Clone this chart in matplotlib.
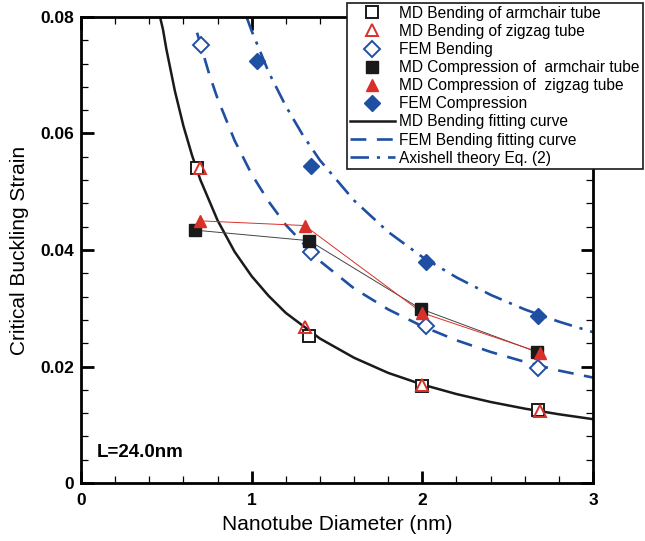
import matplotlib
matplotlib.use("Agg")
import matplotlib.pyplot as plt
from matplotlib.ticker import MultipleLocator

plt.rcParams["font.family"] = ["Liberation Sans", "DejaVu Sans"]

BLUE = "#1f4fa3"
RED = "#d9302a"
INK = "#1a1a1a"

# measured points (diameter nm, critical strain)
md_bend_arm_x = [0.68, 1.336, 2.00, 2.68]
md_bend_arm_y = [0.0541, 0.0252, 0.0167, 0.0125]
md_bend_zig_x = [0.70, 1.31, 2.00, 2.69]
md_bend_zig_y = [0.0540, 0.0267, 0.0168, 0.0124]
fem_bend_x = [0.703, 1.35, 2.02, 2.68]
fem_bend_y = [0.0752, 0.0397, 0.0270, 0.0197]
md_comp_arm_x = [0.67, 1.336, 1.99, 2.67]
md_comp_arm_y = [0.0434, 0.0416, 0.0299, 0.0225]
md_comp_zig_x = [0.70, 1.31, 2.00, 2.69]
md_comp_zig_y = [0.0450, 0.0442, 0.0292, 0.0224]
fem_comp_x = [1.03, 1.35, 2.02, 2.68]
fem_comp_y = [0.0725, 0.0544, 0.0379, 0.0287]

# curves
md_fit_x = [0.463, 0.48, 0.50, 0.55, 0.60, 0.65, 0.70, 0.80, 0.90, 1.0, 1.1,
            1.2, 1.4, 1.6, 1.8, 2.0, 2.2, 2.4, 2.6, 2.8, 3.0]
md_fit_y = [0.0800, 0.0779, 0.0745, 0.0673, 0.0613, 0.0563, 0.0520, 0.0451,
            0.0397, 0.0355, 0.0321, 0.0292, 0.0248, 0.0215, 0.0189, 0.0169,
            0.01527, 0.01391, 0.01277, 0.01180, 0.01096]
fem_fit_x = [0.68, 0.75, 0.80, 0.90, 1.0, 1.1, 1.2, 1.4, 1.6, 1.8, 2.0, 2.2,
             2.4, 2.6, 2.8, 3.0]
fem_fit_y = [0.0773, 0.0703, 0.0660, 0.0588, 0.0530, 0.0483, 0.0443, 0.0381,
             0.0334, 0.0298, 0.0269, 0.0245, 0.0225, 0.0208, 0.0193, 0.0181]
axi_x = [0.97, 1.0, 1.1, 1.2, 1.3, 1.4, 1.6, 1.8, 2.0, 2.2, 2.4, 2.6, 2.8, 3.0]
axi_y = [0.0800, 0.0776, 0.0705, 0.0647, 0.0597, 0.0554, 0.0485, 0.0431,
         0.0388, 0.0353, 0.0323, 0.0298, 0.0277, 0.0259]

fig = plt.figure(figsize=(6.45, 5.41), dpi=100)
ax = fig.add_axes([0.1256, 0.1072, 0.7938, 0.8614])

h_fit, = ax.plot(md_fit_x, md_fit_y, color=INK, lw=1.8,
                 label="MD Bending fitting curve")
h_fem, = ax.plot(fem_fit_x, fem_fit_y, color=BLUE, lw=1.9,
                 dashes=(6, 4), label="FEM Bending fitting curve")
h_axi, = ax.plot(axi_x, axi_y, color=BLUE, lw=1.9,
                 dashes=(7, 3, 1.2, 3), label="Axishell theory Eq. (2)")

ax.plot(md_comp_arm_x, md_comp_arm_y, color="#444444", lw=0.7)
ax.plot(md_comp_zig_x, md_comp_zig_y, color=RED, lw=0.7)

h1, = ax.plot(md_bend_arm_x, md_bend_arm_y, ls="none", marker="s", ms=8,
              mfc="white", mec=INK, mew=1.4, label="MD Bending of armchair tube")
h2, = ax.plot(md_bend_zig_x, md_bend_zig_y, ls="none", marker="^", ms=9,
              mfc="none", mec=RED, mew=1.4, label="MD Bending of zigzag tube")
h3, = ax.plot(fem_bend_x, fem_bend_y, ls="none", marker="D", ms=8,
              mfc="white", mec=BLUE, mew=1.4, label="FEM Bending")
h4, = ax.plot(md_comp_arm_x, md_comp_arm_y, ls="none", marker="s", ms=8,
              mfc=INK, mec=INK, label="MD Compression of  armchair tube")
h5, = ax.plot(md_comp_zig_x, md_comp_zig_y, ls="none", marker="^", ms=9,
              mfc=RED, mec=RED, label="MD Compression of  zigzag tube")
h6, = ax.plot(fem_comp_x, fem_comp_y, ls="none", marker="D", ms=8,
              mfc=BLUE, mec=BLUE, label="FEM Compression")

ax.set_xlim(0, 3)
ax.set_ylim(0, 0.08)
ax.xaxis.set_major_locator(MultipleLocator(1))
ax.xaxis.set_minor_locator(MultipleLocator(0.2))
ax.yaxis.set_minor_locator(MultipleLocator(0.004))
ax.set_yticks([0, 0.02, 0.04, 0.06, 0.08])
ax.set_yticklabels(["0", "0.02", "0.04", "0.06", "0.08"])
ax.tick_params(which="both", direction="in", top=True, right=True)
ax.tick_params(which="major", length=9, width=2, labelsize=12.5, pad=5)
ax.tick_params(axis="x", which="major", pad=7)
ax.tick_params(which="minor", length=5, width=0.9)
for lab in ax.get_xticklabels() + ax.get_yticklabels():
    lab.set_fontweight("bold")
for s in ax.spines.values():
    s.set_linewidth(2)

ax.set_xlabel("Nanotube Diameter (nm)", fontsize=15, labelpad=5)
ax.set_ylabel("Critical Buckling Strain", fontsize=15, labelpad=8)
ax.text(0.094, 0.0052, "L=24.0nm", fontsize=13.5, fontweight="bold",
        va="center", ha="left")

leg = ax.legend(handles=[h1, h2, h3, h4, h5, h6, h_fit, h_fem, h_axi],
                loc="upper right", bbox_to_anchor=(0.997, 0.995),
                bbox_transform=fig.transFigure, fontsize=11.2,
                frameon=True, fancybox=False, framealpha=1,
                edgecolor=INK, borderpad=0.2, labelspacing=0.2,
                handlelength=2.9, handletextpad=0.3, borderaxespad=0)
leg.get_frame().set_linewidth(1.2)
leg.set_zorder(10)

fig.savefig("out.png", dpi=100, facecolor="white")
